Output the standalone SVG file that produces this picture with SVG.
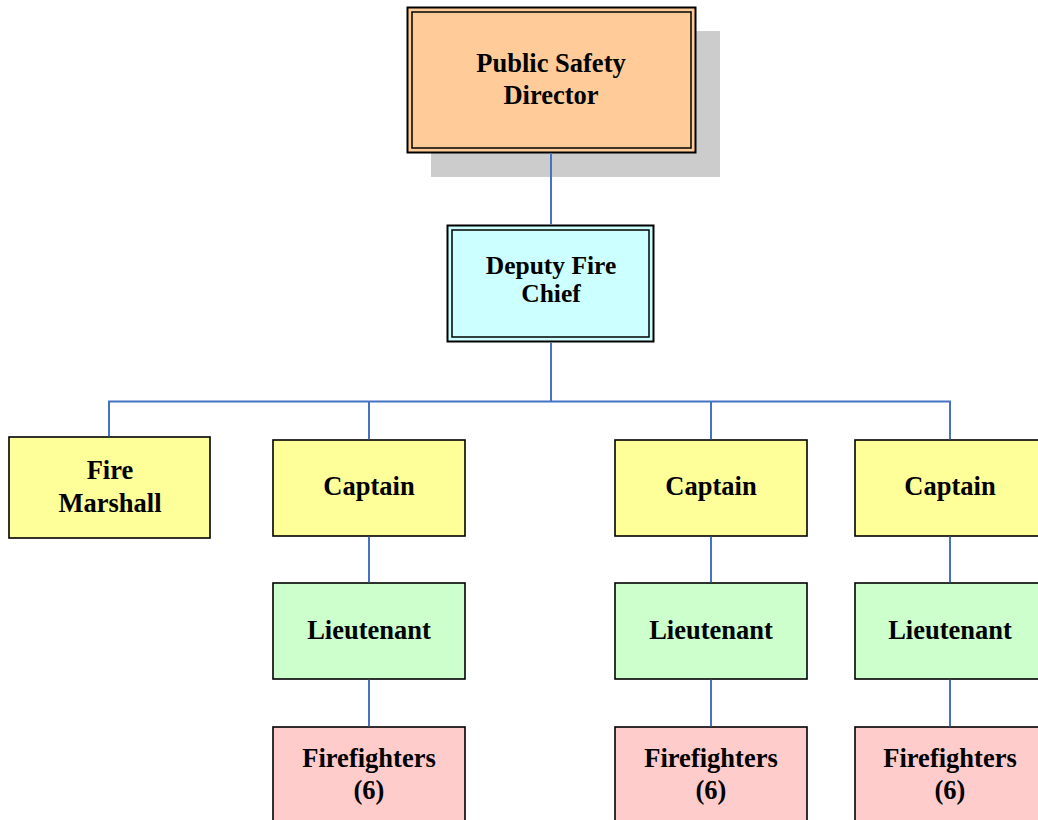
<svg xmlns="http://www.w3.org/2000/svg" width="1038" height="820" viewBox="0 0 1038 820">
<style>
.box{stroke:#000;stroke-width:1.6}
.outer{stroke:#000;stroke-width:2}
.inner{fill:none;stroke:#000;stroke-width:1.5}
.t{font-family:"Liberation Serif","Times New Roman",serif;font-weight:bold;font-size:26.5px;fill:#000;text-anchor:middle}
.conn{fill:none;stroke:#4472C4;stroke-width:2}
.yellow{fill:#FFFF99}.green{fill:#CCFFCC}.pink{fill:#FFCCCC}
</style>
<rect width="1038" height="820" fill="#fff"/>
<g id="director">
<rect x="431" y="31" width="289" height="146" fill="#CCCCCC"/>
<rect class="outer" x="407.5" y="7.5" width="288" height="145" fill="#FFCC99"/>
<rect class="inner" x="412" y="12" width="279" height="136"/>
<text class="t" x="551" y="72">Public Safety</text>
<text class="t" x="551" y="104">Director</text>
</g>
<g id="deputy">
<rect class="outer" x="447.5" y="225.5" width="206" height="116" fill="#CCFFFF"/>
<rect class="inner" x="452" y="230" width="197" height="107"/>
<text class="t" x="551" y="274" style="font-size:25.5px">Deputy Fire</text>
<text class="t" x="551" y="302" style="font-size:25.5px">Chief</text>
</g>
<g id="fire-marshall">
<rect class="box yellow" x="9" y="437" width="201" height="101"/>
<text class="t" x="110" y="479">Fire</text>
<text class="t" x="110" y="512">Marshall</text>
</g>
<g id="captain1">
<rect class="box yellow" x="273" y="440" width="192" height="96"/>
<text class="t" x="369" y="495">Captain</text>
</g>
<g id="captain2">
<rect class="box yellow" x="615" y="440" width="192" height="96"/>
<text class="t" x="711" y="495">Captain</text>
</g>
<g id="captain3">
<rect class="box yellow" x="855" y="440" width="192" height="96"/>
<text class="t" x="950" y="495">Captain</text>
</g>
<g id="lieutenant1">
<rect class="box green" x="273" y="583" width="192" height="96"/>
<text class="t" x="369" y="639">Lieutenant</text>
</g>
<g id="lieutenant2">
<rect class="box green" x="615" y="583" width="192" height="96"/>
<text class="t" x="711" y="639">Lieutenant</text>
</g>
<g id="lieutenant3">
<rect class="box green" x="855" y="583" width="192" height="96"/>
<text class="t" x="950" y="639">Lieutenant</text>
</g>
<g id="firefighters1">
<rect class="box pink" x="273" y="727" width="192" height="100"/>
<text class="t" x="369" y="767">Firefighters</text>
<text class="t" x="369" y="799">(6)</text>
</g>
<g id="firefighters2">
<rect class="box pink" x="615" y="727" width="192" height="100"/>
<text class="t" x="711" y="767">Firefighters</text>
<text class="t" x="711" y="799">(6)</text>
</g>
<g id="firefighters3">
<rect class="box pink" x="855" y="727" width="192" height="100"/>
<text class="t" x="950" y="767">Firefighters</text>
<text class="t" x="950" y="799">(6)</text>
</g>
<g id="connectors">
<path class="conn" d="M551 153.5V224.5"/>
<path class="conn" d="M551 342.5V401.5"/>
<path class="conn" d="M109 436.2V401.5H950V439.2"/>
<path class="conn" d="M369 401.5V439.2"/>
<path class="conn" d="M711 401.5V439.2"/>
<path class="conn" d="M369 536.8V582.2M369 679.8V726.2"/>
<path class="conn" d="M711 536.8V582.2M711 679.8V726.2"/>
<path class="conn" d="M950 536.8V582.2M950 679.8V726.2"/>
</g>
</svg>
